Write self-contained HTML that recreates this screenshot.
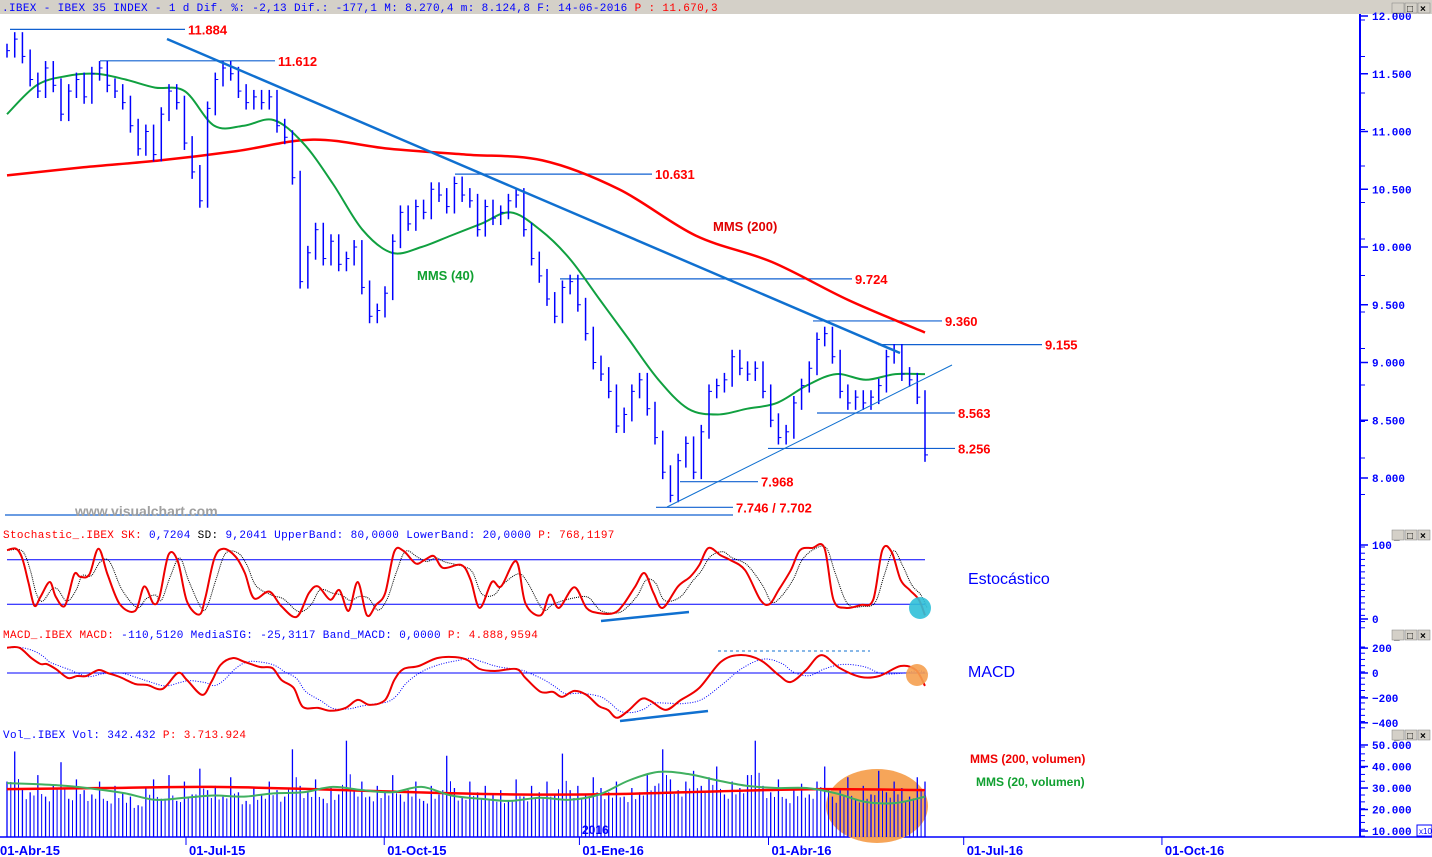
<!DOCTYPE html>
<html><head><meta charset="utf-8"><style>
html,body{margin:0;padding:0;background:#fff;}
svg{display:block;font-family:"Liberation Sans",sans-serif;}
.mono{font-family:"Liberation Mono",monospace;font-size:11px;letter-spacing:0.35px;}
.lbl{font-size:13px;font-weight:bold;fill:#ff0000;}
.ax{font-family:"Liberation Mono",monospace;font-size:11px;font-weight:bold;fill:#0000ff;}
</style></head><body>
<svg id="c" width="1432" height="857" viewBox="0 0 1432 857" xmlns="http://www.w3.org/2000/svg">
<rect x="0" y="0" width="1432" height="14" fill="#d4d0c8"/>
<text x="2" y="11" class="mono" fill="#0000ff">.IBEX - IBEX 35 INDEX -  1 d Dif. %: -2,13 Dif.: -177,1 M: 8.270,4 m: 8.124,8 F: 14-06-2016 <tspan fill="#ff0000">P : 11.670,3</tspan></text>
<g id="layer"></g>
</svg>
<script>
// ---------- DATA ----------
const closes = [11700,11800,11650,11450,11350,11550,11400,11150,11350,11450,11300,11500,11550,11400,11350,11250,11050,10850,11000,10800,11150,11350,11250,10900,10650,10400,11200,11450,11550,11500,11350,11250,11300,11250,11300,11050,10950,10600,9700,9950,10150,9900,10050,9850,9900,10000,9650,9400,9450,9600,10050,10300,10200,10350,10300,10500,10450,10350,10550,10450,10400,10150,10350,10250,10300,10400,10450,10150,9900,9750,9550,9400,9650,9700,9500,9250,9000,8900,8750,8450,8550,8750,8850,8600,8350,8050,7850,8150,8300,8050,8400,8750,8800,8850,9050,8950,8900,8950,8750,8500,8350,8400,8650,8800,8950,9200,9250,9050,8750,8650,8700,8650,8700,8800,9050,9100,8900,8850,8700,8200];
const mms40 = [11150,11400,11480,11500,11450,11380,11350,11050,11050,11100,10900,10550,10150,9950,10000,10100,10200,10300,10150,9900,9550,9200,8850,8600,8550,8600,8650,8800,8900,8850,8900,8900];
const mms200 = [10620,10690,10750,10830,10930,10850,10800,10750,10500,10100,9870,9540,9260];
const stochDays = [0,3,5,7,9,11,14,16,19,22,24,27,30,33,37,42,45,48,50,53,56,59,63,65,68,71,75,78,81,86,90,95,99,102,106,109,112,115,118,121,124,127,130,134,137,140,143,149,152,155,159,162,167,170,175,178,181,186,190,194,199,202,206,209,212,215,220,224,227,230,234,237,242,247,250,253,257,260,264,268,271,275,280,284,287,290,293,296,299,301];
const stochK = [93,95,82,50,18,30,50,30,18,60,57,60,95,60,20,11,44,21,30,87,78,24,6,28,82,95,84,62,28,37,17,3,35,44,26,39,11,50,5,19,35,91,92,75,80,85,69,73,53,15,50,44,78,21,5,33,15,43,15,8,8,19,44,62,35,15,44,57,73,96,86,80,66,26,20,39,66,93,96,96,26,15,19,26,93,91,53,39,26,5];
const macdDays = [0,4,8,11,13,16,20,23,26,30,33,37,42,46,51,56,59,64,67,70,74,78,83,87,90,94,97,102,106,111,115,119,124,127,130,135,141,147,151,155,160,167,170,175,179,182,186,190,194,197,200,204,208,211,216,221,227,234,240,247,253,257,262,267,273,280,286,293,298,301];
const macdVals = [203,203,120,72,72,32,-40,-24,-24,24,0,-32,-88,-96,-128,0,-56,-176,-72,64,120,88,48,40,-56,-120,-272,-280,-304,-280,-216,-256,-216,-56,32,56,120,128,104,32,16,32,-40,-152,-152,-192,-144,-176,-264,-296,-360,-296,-208,-224,-296,-216,-120,88,144,104,-16,-72,24,144,40,-32,-24,56,24,-104];
const volumes = [33,47,30,28,36,26,31,42,25,34,29,27,33,24,31,28,26,22,30,34,25,36,24,33,27,39,29,31,26,35,28,24,30,27,33,29,26,48,31,28,34,25,30,27,52,29,33,26,31,28,36,27,29,33,24,31,27,45,30,26,33,28,31,27,29,24,34,26,31,28,33,27,46,29,31,27,35,30,28,33,26,30,28,36,31,48,34,29,33,38,31,35,40,27,33,30,36,52,31,28,34,25,30,32,27,33,40,26,29,35,25,31,27,38,28,33,30,26,35,33];
const volMa20 = [32.3,31.8,31.0,29.5,27.5,24.5,25.5,26.5,26.0,27.5,28.0,30.5,29.0,28.0,30.5,26.5,25.0,24.0,25.5,24.5,27.0,33.5,37.5,36.5,33.5,31.0,30.0,30.0,27.5,23.5,23.0,26.0];
const volMa200 = [29.5,30.0,30.5,29.5,28.0,27.0,27.2,28.5,29.5,29.0];
const dateLabels = ["01-Jul-15","01-Oct-15","01-Ene-16","01-Abr-16","01-Jul-16","01-Oct-16"];
const dateDays = [60,125,189,251,315,380];
const priceTicks = [12000,11500,11000,10500,10000,9500,9000,8500,8000];
const priceTickLabels = ["12.000","11.500","11.000","10.500","10.000","9.500","9.000","8.500","8.000"];
const stochTicks = [100,0];
const macdTicks = [200,0,-200,-400];
const volTicks = [50,40,30,20,10];
const volTickLabels = ["50.000","40.000","30.000","20.000","10.000"];

// ---------- SCALES ----------
const NS="http://www.w3.org/2000/svg";
const L=document.getElementById('layer');
const X0=7, X1=925, DMAX=301;
const xDay=d=>X0+(X1-X0)*d/DMAX;
const xIdx=(i,n)=>X0+(X1-X0)*i/(n-1);
const yP=v=>16+(12000-v)*0.1155;
const yS=v=>619-v*0.74;
const yM=v=>673-v*0.1245;
const yV=v=>831-(v-10)*2.15;
function el(t,a,parent){const e=document.createElementNS(NS,t);for(const k in a)e.setAttribute(k,a[k]);(parent||L).appendChild(e);return e;}
function line(x1,y1,x2,y2,s,w,extra){return el('line',Object.assign({x1,y1,x2,y2,stroke:s,'stroke-width':w||1},extra||{}));}
function txt(x,y,t,cls,fill,extra){const e=el('text',Object.assign({x,y,class:cls||''},extra||{}));if(fill)e.setAttribute('fill',fill);e.textContent=t;return e;}
function smooth(pts,s,w,extra){
  let d='M'+pts[0][0].toFixed(1)+','+pts[0][1].toFixed(1);
  for(let i=0;i<pts.length-1;i++){
    const p0=pts[Math.max(0,i-1)],p1=pts[i],p2=pts[i+1],p3=pts[Math.min(pts.length-1,i+2)];
    const c1=[p1[0]+(p2[0]-p0[0])/6,p1[1]+(p2[1]-p0[1])/6];
    const c2=[p2[0]-(p3[0]-p1[0])/6,p2[1]-(p3[1]-p1[1])/6];
    d+=' C'+c1[0].toFixed(1)+','+c1[1].toFixed(1)+' '+c2[0].toFixed(1)+','+c2[1].toFixed(1)+' '+p2[0].toFixed(1)+','+p2[1].toFixed(1);
  }
  return el('path',Object.assign({d,fill:'none',stroke:s,'stroke-width':w,'stroke-linejoin':'round'},extra||{}));
}

// ---------- AXES ----------
let e;
e=line(1360,14,1360,837,'#0000ff',2);


e=line(0,837,1432,837,'#0000ff',1.5);


[[14,525],[541,628],[641,728],[741,837]].forEach(([a,b])=>{
  for(let y=a+6;y<b;y+=(b-a)/14){line(1360,y,1365,y,'#0000ff',1);}
});
priceTicks.forEach((v,i)=>{const y=yP(v);line(1360,y,1368,y,'#0000ff',1.5);
  e=txt(1372,y+4,priceTickLabels[i],'ax');
  
  });
stochTicks.forEach(v=>{const y=yS(v);line(1360,y,1368,y,'#0000ff',1.5);
  e=txt(1372,y+4,String(v),'ax');
  
  });
macdTicks.forEach(v=>{const y=yM(v);line(1360,y,1368,y,'#0000ff',1.5);
  e=txt(1372,y+4,String(v).replace('-','−'),'ax');
  
  });
volTicks.forEach((v,i)=>{const y=yV(v);line(1360,y,1368,y,'#0000ff',1.5);
  e=txt(1372,y+4,volTickLabels[i],'ax');
  
  });
e=el('rect',{x:1417,y:825,width:15,height:11,fill:'#fff',stroke:'#0000ff','stroke-width':1});


e=txt(1419,834,'x10','','#0000ff',{'font-size':'8'});
// window buttons
[3,530,630,730].forEach(y=>{
  ['_','□','×'].forEach((s,k)=>{
    e=el('rect',{x:1392+k*13,y:y,width:12,height:10,fill:'#d4d0c8',stroke:'#808080','stroke-width':0.5});
    
    
    txt(1394+k*13,y+9,s,'','#000',{'font-size':'10','font-weight':'bold'});
  });
});
dateLabels.forEach((t,i)=>{const x=xDay(dateDays[i])-4;line(x,837,x,845,'#0000ff',1);
  e=txt(x+3,855,t,'','#0000ff',{'font-size':'13','font-weight':'bold'});
  
  });
e=txt(0,855,'01-Abr-15','','#0000ff',{'font-size':'13','font-weight':'bold'});



// ---------- MAIN PRICE PANEL ----------
const hl=[[11884,10,185],[11612,100,275],[10631,455,652],[9724,560,852],[9360,813,942],[9155,878,1042],[8563,817,955],[8256,768,955],[7968,680,758],[7746,656,733]];
hl.forEach(([v,a,b])=>{
  e=line(a,yP(v),b,yP(v),'#1060d0',1.2);
  
  
  const t=v===7746?'7.746 / 7.702':String(v).replace(/(\d)(\d{3})$/,'$1.$2');
  e=txt(b+3,yP(v)+5,t,'lbl');
  
  
});
e=line(5,515,733,515,'#1060d0',1.2);


e=txt(75,516,'www.visualchart.com','', '#a0a0a0',{'font-size':'14','font-weight':'bold'});



e=smooth(mms200.map((v,i)=>[xIdx(i,mms200.length),yP(v)]),'#ff0000',2.5);


e=smooth(mms40.map((v,i)=>[xIdx(i,mms40.length),yP(v)]),'#10a040',2);



closes.forEach((c,i)=>{
  const p=i?closes[i-1]:c;const x=xIdx(i,closes.length);
  const hi=Math.max(p,c)+60, lo=Math.min(p,c)-60;
  const b=line(x,yP(hi),x,yP(lo),'#0000ff',1.5);
  
  
  line(x,yP(c),x+3,yP(c),'#0000ff',1);
});
// trendlines
e=line(167,39,900,353,'#1070d0',2.5);


e=line(667,507,952,365,'#1070d0',1);


e=txt(417,280,'MMS (40)','','#10a030',{'font-size':'13','font-weight':'bold'});


e=txt(713,231,'MMS (200)','','#e00000',{'font-size':'13','font-weight':'bold'});



// ---------- STOCHASTIC ----------
e=txt(3,538,'','mono');
e.innerHTML='<tspan fill="#ff0000">Stochastic_.IBEX SK:</tspan><tspan fill="#0000ff"> 0,7204</tspan><tspan fill="#000"> SD:</tspan><tspan fill="#0000ff"> 9,2041 UpperBand: 80,0000 LowerBand: 20,0000</tspan><tspan fill="#ff0000"> P: 768,1197</tspan>';


[80,20].forEach(v=>{e=line(7,yS(v),925,yS(v),'#0000ff',1);
  
  });
const sPts=stochDays.map((d,i)=>[xDay(d),yS(stochK[i])]);
const sD=sPts.map((p,i)=>{const a=sPts[Math.max(0,i-1)];return [p[0]+2,(p[1]+a[1])/2];});
e=smooth(sD,'#000',1,{'stroke-dasharray':'1,1'});


e=smooth(sPts,'#ee0000',2);


e=line(601,621,689,612,'#1070d0',2.5);


e=el('circle',{cx:920,cy:608,r:11,fill:'#30c0d8','fill-opacity':0.9});


e=txt(968,584,'Estocástico','','#0000ff',{'font-size':'16'});



// ---------- MACD ----------
e=txt(3,638,'','mono');
e.innerHTML='<tspan fill="#ff0000">MACD_.IBEX MACD:</tspan><tspan fill="#0000ff"> -110,5120 MediaSIG: -25,3117 Band_MACD: 0,0000</tspan><tspan fill="#ff0000"> P: 4.888,9594</tspan>';


e=line(7,yM(0),925,yM(0),'#0000ff',1);


const mPts=macdDays.map((d,i)=>[xDay(d),yM(macdVals[i])]);
const mSig=mPts.map((p,i)=>{const a=mPts[Math.max(0,i-1)],b=mPts[Math.max(0,i-2)];return [p[0]+3,(p[1]+a[1]+b[1])/3];});
e=smooth(mSig,'#0000ff',1,{'stroke-dasharray':'1,1.5'});


e=smooth(mPts,'#ee0000',2);


e=line(718,651,870,651,'#1070d0',1,{'stroke-dasharray':'3,3'});


e=line(620,721,708,711,'#1070d0',2.5);


e=el('circle',{cx:917,cy:675,r:11,fill:'#f5a050','fill-opacity':0.9});


e=txt(968,677,'MACD','','#0000ff',{'font-size':'16'});



// ---------- VOLUME ----------
e=txt(3,738,'','mono');
e.innerHTML='<tspan fill="#0000ff">Vol_.IBEX Vol: 342.432</tspan><tspan fill="#ff0000"> P: 3.713.924</tspan>';


e=el('ellipse',{cx:877,cy:806,rx:51,ry:37,fill:'#f5a050','fill-opacity':0.95});


volumes.forEach((v,i)=>{
  const x=xIdx(i,volumes.length);
  const b=line(x,837,x,yV(v),'#0000ff',1.3);
  
  
  const x2=x+3.8;if(i<volumes.length-1){const v2=(v*0.6+volumes[i+1]*0.4)*0.85;line(x2,837,x2,yV(v2),'#0000ff',1);}
});
e=smooth(volMa200.map((v,i)=>[xIdx(i,volMa200.length),yV(v)]),'#ff0000',2.5);


e=smooth(volMa20.map((v,i)=>[xIdx(i,volMa20.length),yV(v)]),'#40b060',2);


e=txt(582,834,'2016','','#0000ff',{'font-size':'12','font-weight':'bold'});


e=txt(970,763,'MMS (200, volumen)','','#ee0000',{'font-size':'12','font-weight':'bold'});


e=txt(976,786,'MMS (20, volumen)','','#10a030',{'font-size':'12','font-weight':'bold'});


</script>
</body></html>
